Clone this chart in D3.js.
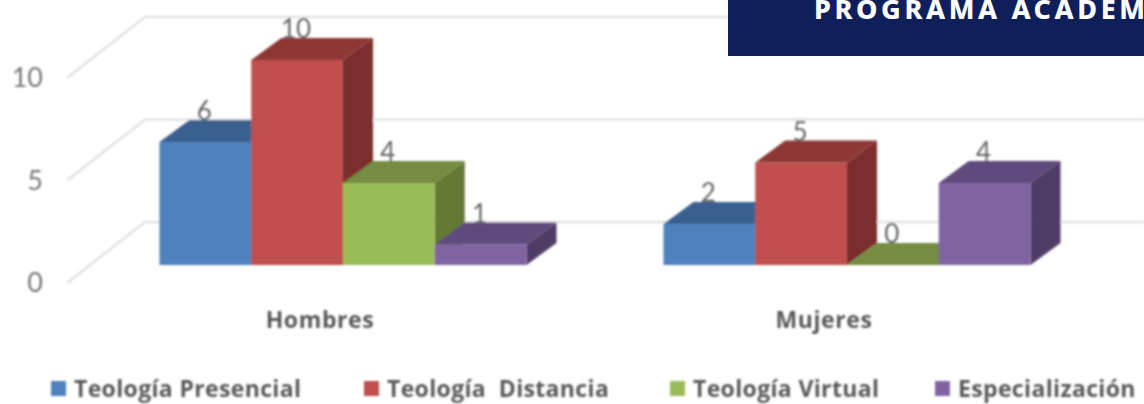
<!DOCTYPE html>
<html>
<head>
<meta charset="utf-8">
<script src="https://cdn.jsdelivr.net/npm/d3@7"></script>
<style>
  html, body { margin: 0; padding: 0; background: #fff; overflow: hidden; }
  text { font-family: Lato, "Open Sans", sans-serif; }
</style>
</head>
<body>
<div id="chart"></div>
<script>
// Données
const categories = ["Hombres", "Mujeres"];
const series = ["Teología Presencial", "Teología  Distancia", "Teología Virtual", "Especialización"];
const presencial = [6, 2];
const distancia = [10, 5];
const virtual = [4, 0];
const especializacion = [1, 4];
const yTicks = [0, 5, 10];
const bannerTitle = "PROGRAMA ACADEM";

const allValues = [presencial, distancia, virtual, especializacion];

// Couleurs : face, dessus, côté
const front = ["#4f81bd", "#c0504d", "#9bbb59", "#8064a2"];
const top3d = ["#3b6190", "#8e3835", "#748c43", "#604a7b"];
const side = ["#38587f", "#7b2f2d", "#637a35", "#4f3c66"];

const width = 1144;
const height = 404;

// Profondeur de la perspective
const depthX = 30;
const depthY = 22;

const svg = d3
  .select("#chart")
  .append("svg")
  .attr("width", width)
  .attr("height", height);

// Léger flou, la référence est une image agrandie
const blur = svg.append("defs").append("filter").attr("id", "soft");
blur.append("feGaussianBlur").attr("stdDeviation", 0.9);

const chart = svg.append("g").attr("filter", "url(#soft)");

const y = d3.scaleLinear().domain([0, 10]).range([265, 60]);

const x0 = d3
  .scaleBand()
  .domain(categories)
  .range([159.5, 1030.5])
  .paddingInner(137 / 504)
  .paddingOuter(0);

const x1 = d3
  .scaleBand()
  .domain(d3.range(series.length))
  .range([0, x0.bandwidth()]);

// Grille : mur du fond et lignes obliques
const gridBack = 43;
yTicks.forEach((t) => {
  const backY = y(t) - gridBack;
  chart
    .append("path")
    .attr("d", `M67,${backY + 61}L145,${backY}H${width}`)
    .attr("fill", "none")
    .attr("stroke", "#e2e2e2")
    .attr("stroke-width", 2.5);
});

// Axe Y
const yAxis = chart
  .append("g")
  .attr("transform", "translate(43,18)")
  .call(d3.axisLeft(y).tickValues(yTicks).tickSize(0).tickPadding(0));
yAxis.select(".domain").remove();
yAxis
  .selectAll("text")
  .attr("fill", "#777")
  .style("font-size", "27px");

// Barres
categories.forEach((cat, c) => {
  series.forEach((s, i) => {
    const v = allValues[i][c];
    const left = x0(cat) + x1(i);
    const right = left + x1.bandwidth();
    const yTop = y(v);
    const yBase = y(0);
    const g = chart.append("g");

    g.append("path")
      .attr("d", `M${right},${yTop}l${depthX},${-depthY}V${yBase - depthY}L${right},${yBase}Z`)
      .attr("fill", side[i]);
    g.append("path")
      .attr("d", `M${left},${yTop}l${depthX},${-depthY}H${right + depthX}L${right},${yTop}Z`)
      .attr("fill", top3d[i]);
    g.append("rect")
      .attr("x", left)
      .attr("y", yTop)
      .attr("width", x1.bandwidth())
      .attr("height", yBase - yTop)
      .attr("fill", front[i]);
  });
});

// Étiquettes de valeurs
categories.forEach((cat, c) => {
  series.forEach((s, i) => {
    const v = allValues[i][c];
    chart
      .append("text")
      .attr("x", x0(cat) + x1(i) + x1.bandwidth() / 2 - 1)
      .attr("y", y(v) - 22)
      .attr("text-anchor", "middle")
      .attr("fill", "#666")
      .style("font-size", "26px")
      .text(v);
  });
});

// Catégories
categories.forEach((cat) => {
  chart
    .append("text")
    .attr("x", x0(cat) + x0.bandwidth() / 2 - 23)
    .attr("y", 328)
    .attr("text-anchor", "middle")
    .attr("fill", "#595959")
    .style("font-family", "'Open Sans', sans-serif")
    .style("font-size", "23px")
    .style("font-weight", 700)
    .style("letter-spacing", "0.6px")
    .text(cat);
});

// Légende
const legendX = [51, 364, 670, 935];
series.forEach((s, i) => {
  chart
    .append("rect")
    .attr("x", legendX[i])
    .attr("y", 381)
    .attr("width", 15)
    .attr("height", 15)
    .attr("fill", front[i]);
  chart
    .append("text")
    .attr("x", legendX[i] + 23)
    .attr("y", 397)
    .attr("fill", "#595959")
    .style("font-family", "'Open Sans', sans-serif")
    .style("font-size", "23px")
    .style("font-weight", 700)
    .style("letter-spacing", "0.35px")
    .style("white-space", "pre")
    .text(s);
});

// Bandeau en haut à droite
svg
  .append("rect")
  .attr("x", 728)
  .attr("y", 0)
  .attr("width", width - 728)
  .attr("height", 56)
  .attr("fill", "#0f1f5a");
svg
  .append("text")
  .attr("x", 814)
  .attr("y", 19)
  .attr("fill", "#fff")
  .style("font-family", "'Noto Sans', sans-serif")
  .style("font-size", "27px")
  .style("font-weight", 800)
  .style("letter-spacing", "3.6px")
  .text(bannerTitle);
</script>
</body>
</html>
